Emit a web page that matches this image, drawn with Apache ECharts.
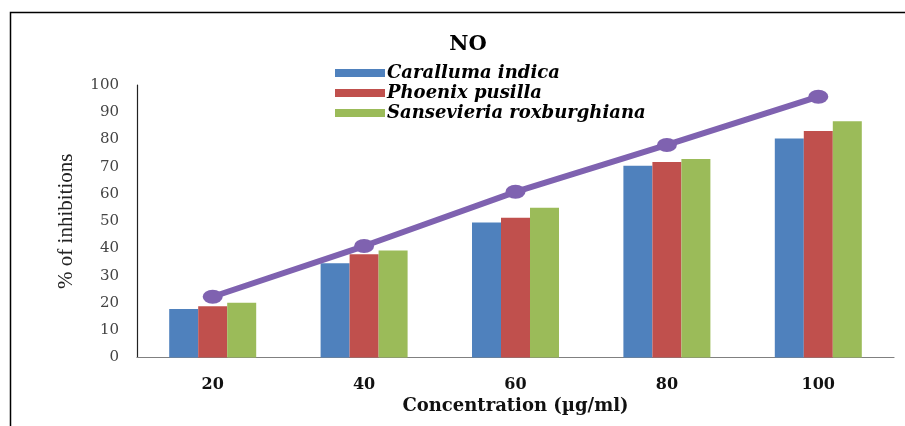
<!DOCTYPE html>
<html>
<head>
<meta charset="utf-8">
<script src="https://cdn.jsdelivr.net/npm/echarts@6/dist/echarts.min.js"></script>
<style>
html,body{margin:0;padding:0;background:#fff;}
#main{width:905px;height:426px;}
</style>
</head>
<body>
<div id="main"></div>
<script>
var categories = ['20', '40', '60', '80', '100'];
var seriesNames = ['Caralluma indica', 'Phoenix pusilla', 'Sansevieria roxburghiana'];
var caralluma = [17.8, 34.6, 49.5, 70.4, 80.4];
var phoenix = [18.8, 37.9, 51.3, 71.7, 83.1];
var sansevieria = [20.1, 39.3, 55.0, 72.8, 86.7];
var standardLine = [22.3, 40.9, 60.8, 78.0, 95.7];
var yTicks = [0, 10, 20, 30, 40, 50, 60, 70, 80, 90, 100];

var chart = echarts.init(document.getElementById('main'));
var barColors = ['#4F81BD', '#C0504D', '#9BBB59'];
var option = {
  animation: false,
  backgroundColor: '#fff',
  graphic: [{
    type: 'polyline',
    shape: { points: [[10.5, 426], [10.5, 12.5], [905, 12.5]] },
    style: { stroke: '#000', lineWidth: 1.5, fill: null }
  }],
  title: {
    text: 'NO',
    left: 463,
    top: 29,
    textAlign: 'center',
    textStyle: { fontFamily: 'DejaVu Serif', fontWeight: 'bold', fontSize: 21, color: '#000' }
  },
  legend: {
    data: seriesNames,
    orient: 'vertical',
    left: 330,
    top: 59,
    itemWidth: 50,
    itemHeight: 8,
    itemGap: 2,
    icon: 'rect',
    textStyle: { fontFamily: 'DejaVu Serif', fontStyle: 'italic', fontWeight: 'bold', fontSize: 18, lineHeight: 18, color: '#000', padding: [0, 0, 0, -3] }
  },
  grid: { left: 137, right: 11, top: 85, bottom: 68.5 },
  xAxis: {
    type: 'category',
    data: categories,
    name: 'Concentration (µg/ml)',
    nameLocation: 'middle',
    nameGap: 38,
    nameTextStyle: { fontFamily: 'DejaVu Serif', fontWeight: 'bold', fontSize: 18, color: '#111' },
    axisLine: { lineStyle: { color: '#808080', width: 1.2 } },
    axisTick: { show: false },
    axisLabel: { margin: 19, fontFamily: 'DejaVu Serif', fontWeight: 'bold', fontSize: 16, color: '#111' }
  },
  yAxis: {
    type: 'value',
    min: yTicks[0],
    max: yTicks[yTicks.length - 1],
    interval: 10,
    name: '% of inhibitions',
    nameLocation: 'middle',
    nameGap: 60,
    nameTextStyle: { fontFamily: 'Liberation Serif', fontSize: 21, color: '#222' },
    axisLine: { show: true, lineStyle: { color: '#222', width: 1.2 } },
    axisTick: { show: false },
    splitLine: { show: false },
    axisLabel: { margin: 18, fontFamily: 'DejaVu Serif', fontSize: 15, color: '#444' }
  },
  series: [
    { name: seriesNames[0], type: 'bar', data: caralluma, barWidth: 29, barGap: '0%', itemStyle: { color: barColors[0] } },
    { name: seriesNames[1], type: 'bar', data: phoenix, barWidth: 29, barGap: '0%', itemStyle: { color: barColors[1] } },
    { name: seriesNames[2], type: 'bar', data: sansevieria, barWidth: 29, barGap: '0%', itemStyle: { color: barColors[2] } },
    { name: 'Standard', type: 'line', data: standardLine, symbol: 'circle', symbolSize: [20, 14], z: 5,
      lineStyle: { color: '#7F62B0', width: 6 }, itemStyle: { color: '#7F62B0' } }
  ]
};
chart.setOption(option);
</script>
</body>
</html>
